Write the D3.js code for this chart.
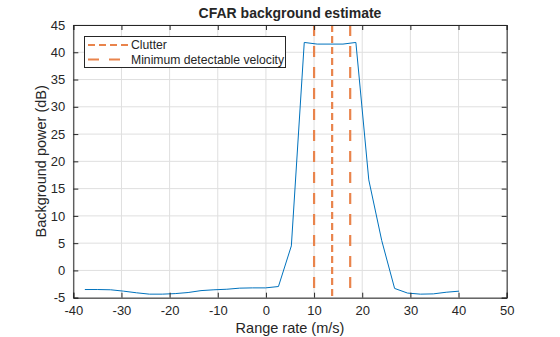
<!DOCTYPE html>
<html><head><meta charset="utf-8">
<script src="https://cdn.jsdelivr.net/npm/d3@7"></script>
<style>body{margin:0;background:#fff}svg{display:block;font-family:"Liberation Sans",Arial,sans-serif}</style>
</head><body><svg id="c" width="560" height="337"></svg>
<script>
const rangeRate = [-37.6,-34.92,-32.24,-29.56,-26.88,-24.2,-21.52,-18.84,-16.16,-13.48,-10.8,-8.12,-5.44,-2.76,-0.08,2.6,5.28,7.96,10.64,13.32,16.0,18.68,21.36,24.04,26.72,29.4,32.08,34.76,37.44,40.12];
const backgroundPower = [-3.5,-3.5,-3.55,-3.8,-4.1,-4.35,-4.35,-4.25,-4.05,-3.7,-3.55,-3.45,-3.25,-3.2,-3.2,-2.95,4.5,41.8,41.5,41.5,41.5,41.8,16.6,5.5,-3.3,-4.15,-4.35,-4.3,-4.0,-3.8];
const clutterVelocity = [13.75];
const minDetectableVelocity = [10.0, 17.5];
const xTicks = [-40,-30,-20,-10,0,10,20,30,40,50];
const yTicks = [-5,0,5,10,15,20,25,30,35,40,45];

const svg = d3.select("#c");
const L = 73.3, R = 506.7, T = 25, B = 297.7;
const x = d3.scaleLinear().domain([-40,50]).range([L,R]);
const y = d3.scaleLinear().domain([-5,45]).range([B,T]);
const txt = "#262626";

// grid
const g = svg.append("g");
g.selectAll(".gx").data(xTicks).join("line").attr("x1",d=>x(d)).attr("x2",d=>x(d)).attr("y1",T).attr("y2",B).attr("stroke","#dfdfdf").attr("stroke-width",1);
g.selectAll(".gy").data(yTicks).join("line").attr("y1",d=>y(d)).attr("y2",d=>y(d)).attr("x1",L).attr("x2",R).attr("stroke","#dfdfdf").attr("stroke-width",1);

// data line
svg.append("path").datum(rangeRate.map((v,i)=>[v,backgroundPower[i]]))
  .attr("fill","none").attr("stroke","#0072BD").attr("stroke-width",1)
  .attr("d", d3.line().x(d=>x(d[0])).y(d=>y(d[1])));

const orange = "#E9844C";
svg.selectAll(".cl").data(clutterVelocity).join("line").attr("x1",d=>x(d)).attr("x2",d=>x(d)).attr("y1",T).attr("y2",B)
  .attr("stroke",orange).attr("stroke-width",2.2).attr("stroke-dasharray","7,4");
svg.selectAll(".mdv").data(minDetectableVelocity).join("line").attr("x1",d=>x(d)).attr("x2",d=>x(d)).attr("y1",T).attr("y2",B)
  .attr("stroke",orange).attr("stroke-width",2.2).attr("stroke-dasharray","11,10");

// axes
const fmt = d => String(d);
const ax = svg.append("g").attr("transform",`translate(0,${B})`).call(d3.axisBottom(x).tickValues(xTicks).tickSize(-5).tickPadding(8).tickFormat(fmt));
const ay = svg.append("g").attr("transform",`translate(${L},0)`).call(d3.axisLeft(y).tickValues(yTicks).tickSize(-5).tickPadding(8).tickFormat(fmt));
const axt = svg.append("g").attr("transform",`translate(0,${T})`).call(d3.axisTop(x).tickValues(xTicks).tickSize(-5).tickFormat(""));
const ayr = svg.append("g").attr("transform",`translate(${R},0)`).call(d3.axisRight(y).tickValues(yTicks).tickSize(-5).tickFormat(""));
[ax,ay,axt,ayr].forEach(a=>{a.select(".domain").attr("stroke",txt).attr("stroke-width",1);a.selectAll(".tick line").attr("stroke",txt);a.selectAll("text").attr("fill",txt).style("font-size","13px").style("font-family","'Liberation Sans',Arial,sans-serif");});
ax.selectAll("text").attr("dy","0.71em");

// title & labels
svg.append("text").attr("x",(L+R)/2).attr("y",18).attr("text-anchor","middle").attr("fill",txt).style("font-size","14px").style("font-weight","bold").text("CFAR background estimate");
svg.append("text").attr("x",(L+R)/2).attr("y",333).attr("text-anchor","middle").attr("fill",txt).style("font-size","14.5px").text("Range rate (m/s)");
svg.append("text").attr("transform",`translate(46,${(T+B)/2}) rotate(-90)`).attr("text-anchor","middle").attr("fill",txt).style("font-size","14.5px").text("Background power (dB)");

// legend
const lg = svg.append("g");
lg.append("rect").attr("x",84.5).attr("y",36.5).attr("width",201).attr("height",31).attr("fill","#fff").attr("stroke",txt).attr("stroke-width",1);
const items = [{name:"Clutter",dash:"7,4"},{name:"Minimum detectable velocity",dash:"11,10"}];
items.forEach((it,i)=>{
  const yy = 45 + i*14.5;
  lg.append("line").attr("x1",88).attr("x2",128).attr("y1",yy).attr("y2",yy).attr("stroke",orange).attr("stroke-width",2.2).attr("stroke-dasharray",it.dash);
  lg.append("text").attr("x",131).attr("y",yy+4.3).attr("fill",txt).style("font-size","12.2px").text(it.name);
});
</script></body></html>
